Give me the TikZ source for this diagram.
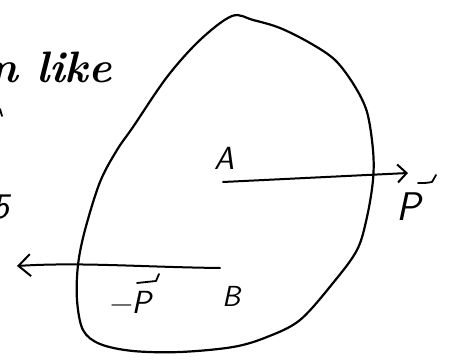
\documentclass[tikz,border=0pt]{standalone}
\usetikzlibrary{arrows.meta}
\begin{document}
\begin{tikzpicture}[x=1pt,y=-1pt,line cap=round,line join=round,
  stroke/.style={line width=2.2pt},
  vecarrow/.style={line width=2pt,-{Straight Barb[length=9pt,width=18pt,line width=2pt]}},
  vechook/.style={line width=1.8pt},
  lbl/.style={inner sep=0pt,anchor=base west,font=\sffamily\itshape\fontsize{#1}{#1}\selectfont},
  hand/.style={inner sep=0pt,anchor=base west,font=\rmfamily\bfseries\itshape\fontsize{#1}{#1}\selectfont}]
\useasboundingbox (0,0) rectangle (453,361);
% body outline
\draw[stroke] plot[smooth cycle,tension=0.55] coordinates {
  (232,16) (253,20) (280,28) (310,43) (335,60) (354,85) (367,112) (373,150)
  (373,180) (367,217) (357,250) (333,283) (300,320) (267,337) (233,347)
  (180,352) (133,351) (100,344) (83,330) (77,300) (78,265) (85,230)
  (100,182) (117,150) (133,127) (167,77) (200,40)};
% texts
\node[hand=44] (t1) at (-11,83) {n like};
\node[lbl=36] (t2) at (-8,218) {5};
\draw[line width=1.8pt] (0,109) -- (2,116);
\node[lbl=32] (A) at (214,169) {A};
\node[lbl=29] (B) at (222,306) {B};
\node[lbl=40] (P1) at (396,220) {P};
\node[lbl=32] (P2) at (108,313) {−P};
% force arrows
\coordinate (a0) at (223,182);
\coordinate (a1) at (408,173);
\coordinate (b0) at (220,268);
\coordinate (b1) at (17,266);
\draw[vecarrow] (a0) -- (a1);
\draw[line width=2pt,-{Straight Barb[length=12pt,width=22pt,line width=2pt]}]
  (b0) .. controls (140,267) and (80,262) .. (b1);
% vector marks above P
\coordinate (v1a) at (418,183);
\coordinate (v1b) at (432,182);
\coordinate (v1c) at (436,175);
\draw[vechook] (v1a) .. controls (426,183) .. (v1b) -- (v1c);
\coordinate (v2a) at (137,283);
\coordinate (v2b) at (156,281);
\coordinate (v2c) at (159,274);
\draw[vechook] (v2a) .. controls (147,282) .. (v2b) -- (v2c);
\end{tikzpicture}
\end{document}
